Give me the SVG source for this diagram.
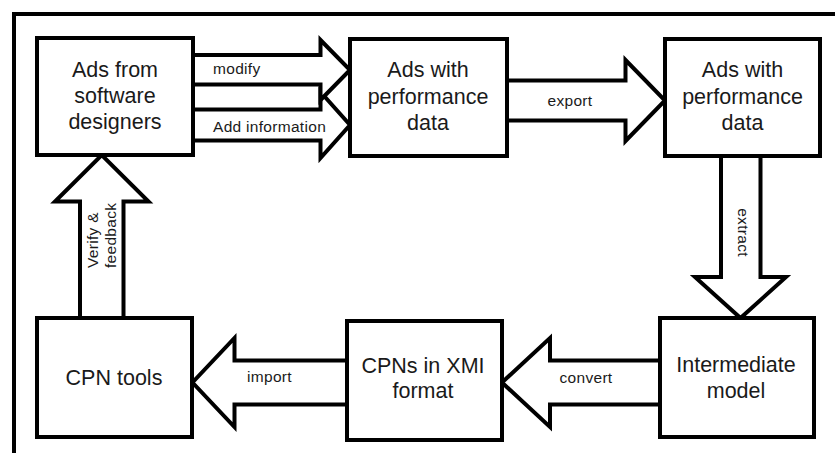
<svg xmlns="http://www.w3.org/2000/svg" width="835" height="453" viewBox="0 0 835 453">
<style>
.frame{fill:none;stroke:#000;stroke-width:4}
.box{fill:#fff;stroke:#000;stroke-width:4}
.arr{fill:#fff;stroke:#000;stroke-width:4;stroke-linejoin:miter}
.t{font-family:"Liberation Sans",Arial,sans-serif;font-size:21.5px;fill:#1a1a1a;text-anchor:middle}
.l{font-family:"Liberation Sans",Arial,sans-serif;font-size:15.5px;fill:#1a1a1a;letter-spacing:0.3px}
</style>
<rect width="835" height="453" fill="#fff"/>
<path class="frame" d="M14,453 V14 H835"/>
<g id="connectors">
  <polygon class="arr" points="190,109.5 320.5,109.5 320.5,92 350,125 320.5,158 320.5,140.5 190,140.5"/>
  <polygon class="arr" points="190,55 320.5,55 320.5,40 350,70 320.5,100 320.5,84.5 190,84.5"/>
  <polygon class="arr" points="505,80.5 625.5,80.5 625.5,60 665,100.5 625.5,141 625.5,120.5 505,120.5"/>
  <polygon class="arr" points="721,154 721,277 695,277 740.5,318 786,277 760.5,277 760.5,154"/>
  <polygon class="arr" points="662,360.5 550,360.5 550,338 502,382.5 550,427 550,404.5 662,404.5"/>
  <polygon class="arr" points="349,360.5 234.5,360.5 234.5,338 192.5,382.5 234.5,427 234.5,404.5 349,404.5"/>
  <polygon class="arr" points="80,320 80,201.5 55,201.5 101.75,155 148.5,201.5 123.5,201.5 123.5,320"/>
  <text class="l" x="213" y="74">modify</text>
  <text class="l" x="213" y="132">Add information</text>
  <text class="l" x="570" y="106" text-anchor="middle">export</text>
  <text class="l" x="586" y="383" text-anchor="middle">convert</text>
  <text class="l" x="269.5" y="382" text-anchor="middle">import</text>
  <text class="l" transform="translate(738,232.5) rotate(90)" text-anchor="middle">extract</text>
  <text class="l" transform="translate(98,268) rotate(-90)">Verify &amp;</text>
  <text class="l" transform="translate(116,268) rotate(-90)">feedback</text>
</g>
<g id="n1">
  <rect class="box" x="37" y="38" width="156" height="117"/>
  <text class="t" x="115" y="77">Ads from</text>
  <text class="t" x="115" y="103">software</text>
  <text class="t" x="115" y="129">designers</text>
</g>
<g id="n2">
  <rect class="box" x="350" y="39" width="157" height="117"/>
  <text class="t" x="428" y="77">Ads with</text>
  <text class="t" x="428" y="104">performance</text>
  <text class="t" x="428" y="130">data</text>
</g>
<g id="n3">
  <rect class="box" x="665" y="39" width="155" height="117"/>
  <text class="t" x="742.5" y="77">Ads with</text>
  <text class="t" x="742.5" y="104">performance</text>
  <text class="t" x="742.5" y="130">data</text>
</g>
<g id="n4">
  <rect class="box" x="660" y="318" width="154" height="119"/>
  <text class="t" x="736" y="372">Intermediate</text>
  <text class="t" x="736" y="398">model</text>
</g>
<g id="n5">
  <rect class="box" x="347" y="321" width="155" height="119"/>
  <text class="t" x="423" y="373">CPNs in XMI</text>
  <text class="t" x="423" y="398">format</text>
</g>
<g id="n6">
  <rect class="box" x="37" y="318" width="155" height="119"/>
  <text class="t" x="114" y="385">CPN tools</text>
</g>
</svg>
